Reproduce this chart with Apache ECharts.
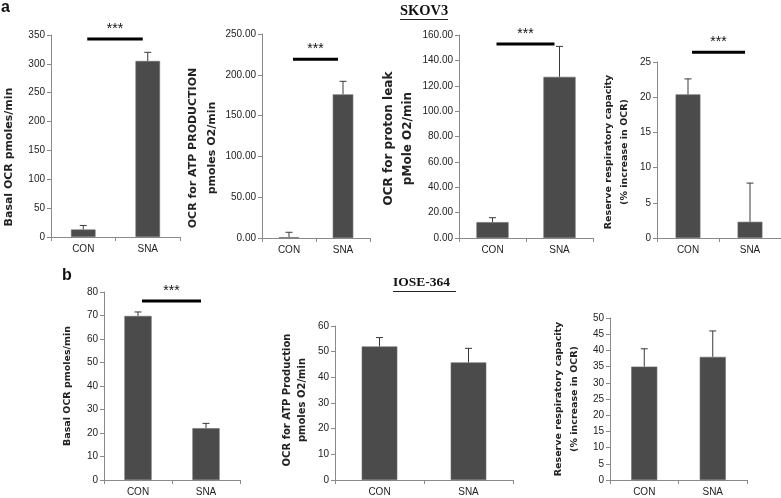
<!DOCTYPE html>
<html><head><meta charset="utf-8">
<script src="https://cdn.jsdelivr.net/npm/echarts@6/dist/echarts.min.js"></script>
<style>html,body{margin:0;padding:0;background:#fff}#c{width:781px;height:498px}</style>
</head><body><div id="c"></div>
<script>
// ---- data ----
const categories = ['CON', 'SNA'];
const a1Values = [13, 305];   const a1Errors = [7, 15];
const a2Values = [1, 176];    const a2Errors = [6, 16];
const a3Values = [12.5, 127]; const a3Errors = [3.5, 24];
const a4Values = [20.4, 2.3]; const a4Errors = [2.2, 5.5];
const b1Values = [69.8, 22];  const b1Errors = [1.7, 2.1];
const b2Values = [52, 45.8];  const b2Errors = [3.5, 5.5];
const b3Values = [35, 38];    const b3Errors = [5.5, 8];
const a1Sig = 343, a2Sig = 219, a3Sig = 153, a4Sig = 26.4, b1Sig = 76.2;
const a1Ticks = [0, 350, 50], a2Ticks = [0, 250, 50], a3Ticks = [0, 160, 20], a4Ticks = [0, 25, 5];
const b1Ticks = [0, 80, 10], b2Ticks = [0, 60, 10], b3Ticks = [0, 50, 5];
const a1Title = 'Basal OCR pmoles/min';
const a2Title = 'OCR for ATP PRODUCTION\npmoles O2/min';
const a3Title = 'OCR for proton leak\npMole O2/min';
const a4Title = 'Reserve respiratory capacity\n(% increase in OCR)';
const b1Title = 'Basal OCR pmoles/min';
const b2Title = 'OCR for ATP Production\npmoles O2/min';
const b3Title = 'Reserve respiratory capacity\n(% increase in OCR)';

// ---- layout ----
const panels = [
  {v:a1Values,e:a1Errors,t:a1Ticks,title:a1Title,sig:a1Sig,dec:0,grid:{left:48,top:35,width:132,height:202},bw:'38%',tf:11,lh:16,gap:34,fs:10,pad:[0,42,0,0]},
  {v:a2Values,e:a2Errors,t:a2Ticks,title:a2Title,sig:a2Sig,dec:2,grid:{left:262,top:34,width:108,height:204},bw:'38%',tf:11,lh:19,gap:40,fs:10,pad:[0,24,0,0]},
  {v:a3Values,e:a3Errors,t:a3Ticks,title:a3Title,sig:a3Sig,dec:2,grid:{left:459,top:35,width:134,height:203},bw:'48%',tf:12,lh:19,gap:42,fs:10,pad:[0,4,0,0]},
  {v:a4Values,e:a4Errors,t:a4Ticks,title:a4Title,sig:a4Sig,dec:0,grid:{left:657,top:62,width:124,height:176},bw:'40%',tf:9.5,lh:15.5,gap:25,fs:10,pad:[0,4,0,0]},
  {v:b1Values,e:b1Errors,t:b1Ticks,title:b1Title,sig:b1Sig,dec:0,grid:{left:104,top:292,width:136,height:188},bw:'40%',tf:9.5,lh:15,gap:29,fs:10,pad:0},
  {v:b2Values,e:b2Errors,t:b2Ticks,title:b2Title,sig:null,dec:0,grid:{left:335,top:326,width:178,height:154},bw:'40%',tf:10,lh:15,gap:25,fs:10,pad:[0,0,0,6]},
  {v:b3Values,e:b3Errors,t:b3Ticks,title:b3Title,sig:null,dec:0,grid:{left:610,top:318,width:137,height:162},bw:'38%',tf:9.5,lh:16,gap:27,fs:10,pad:0}
];

const FONT = 'Liberation Sans';
const grid = [], xAxis = [], yAxis = [], series = [];
panels.forEach((p, i) => {
  grid.push(p.grid);
  xAxis.push({
    type: 'category', gridIndex: i, data: categories,
    axisLine: {lineStyle: {color: '#8a8a8a'}},
    axisTick: {show: true, length: 4, lineStyle: {color: '#8a8a8a'}},
    axisLabel: {color: '#222', fontFamily: FONT, fontSize: p.fs, margin: 7}
  });
  yAxis.push({
    type: 'value', gridIndex: i, min: p.t[0], max: p.t[1], interval: p.t[2],
    splitLine: {show: false},
    axisLine: {show: true, lineStyle: {color: '#8a8a8a'}},
    axisTick: {show: true, length: 4, lineStyle: {color: '#8a8a8a'}},
    axisLabel: {color: '#222', fontFamily: FONT, fontSize: p.fs, margin: 6,
      formatter: v => v.toFixed(p.dec)},
    name: p.title, nameLocation: 'middle', nameRotate: 90, nameGap: p.gap,
    nameTextStyle: {fontFamily: 'DejaVu Sans', fontWeight: 'bold', fontSize: p.tf, lineHeight: p.lh, color: '#222', align: 'center', padding: p.pad}
  });
  series.push({
    type: 'bar', xAxisIndex: i, yAxisIndex: i, data: p.v, barWidth: p.bw,
    itemStyle: {color: '#4b4b4b', borderColor: '#6a6a6a', borderWidth: 0.6},
    silent: true, animation: false
  });
  series.push({
    type: 'custom', xAxisIndex: i, yAxisIndex: i, animation: false, silent: true, clip: false,
    data: p.v.map((v, k) => [k, v, v + p.e[k]]),
    renderItem: (params, api) => {
      const p0 = api.coord([api.value(0), api.value(1)]);
      const p1 = api.coord([api.value(0), api.value(2)]);
      const st = {stroke: '#3a3a3a', lineWidth: 1};
      return {type: 'group', children: [
        {type: 'line', shape: {x1: p0[0], y1: p0[1], x2: p1[0], y2: p1[1]}, style: st},
        {type: 'line', shape: {x1: p1[0] - 3.5, y1: p1[1], x2: p1[0] + 3.5, y2: p1[1]}, style: st}
      ]};
    }
  });
  if (p.sig !== null) {
    series.push({
      type: 'custom', xAxisIndex: i, yAxisIndex: i, animation: false, silent: true, clip: false,
      data: [[0, 1, p.sig]],
      renderItem: (params, api) => {
        const s = api.coord([api.value(0), api.value(2)]);
        const e = api.coord([api.value(1), api.value(2)]);
        const x1 = s[0] + 4, x2 = e[0] - 5;
        return {type: 'group', children: [
          {type: 'line', shape: {x1: x1, y1: s[1], x2: x2, y2: s[1]}, style: {stroke: '#000', lineWidth: 3}},
          {type: 'text', x: (x1 + x2) / 2, y: s[1] - 3,
           style: {text: '***', fontSize: 14, fontFamily: FONT, fill: '#111', align: 'center', verticalAlign: 'bottom'}}
        ]};
      }
    });
  }
});

const chart = echarts.init(document.getElementById('c'), null, {renderer: 'canvas'});
chart.setOption({
  animation: false,
  grid, xAxis, yAxis, series,
  graphic: [
    {type: 'text', left: 1, top: 0, style: {text: 'a', fontFamily: FONT, fontWeight: 'bold', fontSize: 16, fill: '#111'}},
    {type: 'text', left: 62, top: 268, style: {text: 'b', fontFamily: FONT, fontWeight: 'bold', fontSize: 16, fill: '#111'}},
    {type: 'text', left: 400, top: 4, style: {text: 'SKOV3', fontFamily: 'Liberation Serif', fontWeight: 'bold', fontSize: 14.5, fill: '#111'}},
    {type: 'line', shape: {x1: 400, y1: 19.5, x2: 448, y2: 19.5}, style: {stroke: '#222', lineWidth: 1}},
    {type: 'text', left: 393, top: 276, style: {text: 'IOSE-364', fontFamily: 'Liberation Serif', fontWeight: 'bold', fontSize: 13.5, fill: '#111'}},
    {type: 'line', shape: {x1: 393, y1: 291.5, x2: 456, y2: 291.5}, style: {stroke: '#222', lineWidth: 1}}
  ]
});
</script></body></html>
